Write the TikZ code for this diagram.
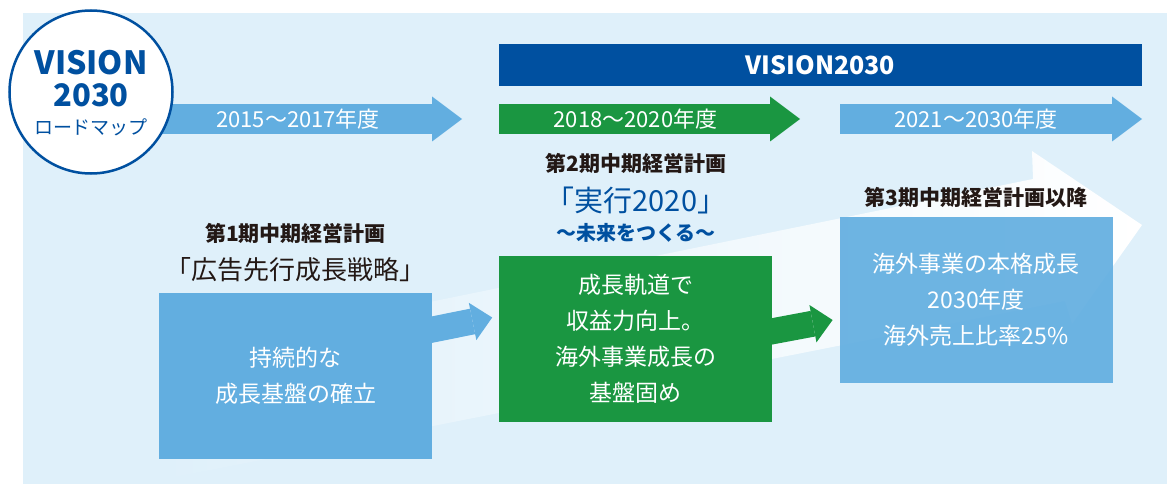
\documentclass[tikz,border=0pt]{standalone}
\usepackage{fontspec}
\setmainfont{Noto Sans CJK JP}
\usetikzlibrary{arrows.meta,positioning,calc,backgrounds}
\definecolor{bgblue}{HTML}{DFF0FA}
\definecolor{skyblue}{HTML}{62AEE0}
\definecolor{planGreen}{HTML}{1A9641}
\definecolor{navy}{HTML}{0050A0}
\definecolor{ink}{HTML}{231815}
\tikzset{
    panel/.style = {rectangle, minimum width=273pt, minimum height=166pt,
        inner sep=0pt, align=center, text=white,
        font=\fontsize{23}{36}\selectfont},
    yeartext/.style = {text=white, font=\fontsize{22}{26}\selectfont},
    band/.style = {line width=30pt, -{Triangle[length=30pt,width=45pt,line width=0pt]}},
    stub/.style = {line width=26pt, -{Triangle[length=20pt,width=38pt,line width=0pt]}},
    plantitle/.style = {text=ink, font=\bfseries\fontsize{21}{24}\selectfont},
    planname/.style = {text=ink, font=\fontsize{26}{30}\selectfont}
}

\begin{document}
\begin{tikzpicture}[x=1pt,y=-1pt]
    \useasboundingbox (0,0) rectangle (1167,484);
    \begin{scope}[on background layer]
    \fill[bgblue] (23,13) rectangle (1167,484);
    % big faint arrow behind the plans
    \shade[left color=bgblue, middle color=white!70!bgblue, right color=white]
        (160,357) -- (1033,179) -- (1032,151) -- (1142,225) -- (1072,324)
        -- (1065,301) -- (160,480) -- cycle;
    % period arrows
    \draw[band, skyblue] (150,119) -- (462,119);
    \draw[band, planGreen] (499,119) -- (800,119);
    \draw[band, skyblue] (840,119) -- (1142,119);
    \end{scope}
    \node[yeartext] (y1) at (298,119) {2015〜2017年度};
    \node[yeartext] (y2) at (635.5,119) {2018〜2020年度};
    \node[yeartext] (y3) at (976,119) {2021〜2030年度};

    \node[fill=navy, minimum width=643pt, minimum height=42pt, inner sep=0pt,
        text=white, font=\bfseries\fontsize{25}{28}\selectfont] (vbar) at (820.5,65) {VISION2030};

    % logo
    \node[circle, draw=navy, line width=2.5pt, fill=white, minimum size=163pt, inner sep=0pt] (logo) at (91,92) {};
    \node[text=navy, font=\bfseries\fontsize{32}{32}\selectfont] (logoa) at ([yshift=29pt]logo.center) {VISION};
    \node[text=navy, font=\bfseries\fontsize{31}{32}\selectfont] (logob) at ([yshift=-3pt]logo.center) {2030};
    \node[text=navy, font=\fontsize{19}{22}\selectfont] (logoc) at ([yshift=-35pt]logo.center) {ロードマップ};

    % plans
    \node[panel, fill=skyblue] (b1) at (295.5,376) {持続的な\\成長基盤の確立};
    \node[panel, fill=planGreen, right=67pt of b1, yshift=37.5pt] (b2) {成長軌道で\\収益力向上。\\海外事業成長の\\基盤固め};
    \node[panel, fill=skyblue, fill opacity=.92, text opacity=1, right=67pt of b2, yshift=38.5pt] (b3) {海外事業の本格成長\\2030年度\\海外売上比率25\%};

    \node[planname, above of=b1, node distance=106pt] (t1b) {「広告先行成長戦略」};
    \node[plantitle, above of=t1b, node distance=37pt] (t1a) {第1期中期経営計画};
    \node[text=navy, font=\bfseries\fontsize{20}{24}\selectfont, above of=b2, node distance=105.5pt] (t2c) {〜未来をつくる〜};
    \node[text=navy, font=\fontsize{29}{32}\selectfont, above of=t2c, node distance=33pt] (t2b) {「実行2020」};
    \node[plantitle, above of=t2b, node distance=37pt] (t2a) {第2期中期経営計画};
    \node[plantitle, above of=b3, node distance=103pt] (t3) {第3期中期経営計画以降};

    \begin{scope}[on background layer]
    \draw[stub, skyblue] ([xshift=-12pt,yshift=44pt]b1.east) -- ([xshift=-7pt,yshift=21pt]b2.west);
    \draw[stub, planGreen] ([xshift=-12pt,yshift=5pt]b2.east) -- ([xshift=-7pt,yshift=-20pt]b3.west);
    \end{scope}
\end{tikzpicture}
\end{document}
